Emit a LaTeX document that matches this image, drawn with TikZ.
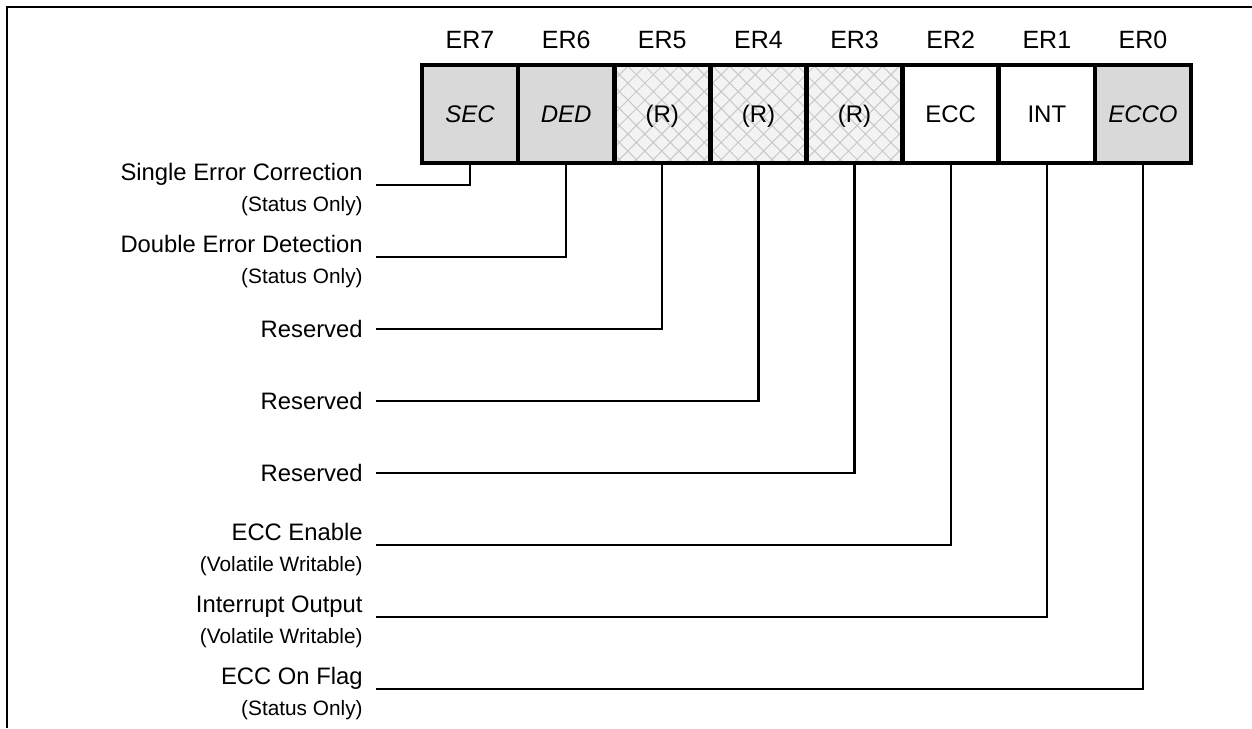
\documentclass[tikz,border=0pt]{standalone}
\usepackage{fontspec}
\setmainfont{Liberation Sans}
\usetikzlibrary{patterns.meta}
\definecolor{cellgray}{HTML}{D9D9D9}
\definecolor{hatchbg}{HTML}{F3F3F3}
\definecolor{hatchln}{HTML}{C8C8C8}
\newcommand{\subtxt}[1]{{\fontsize{10.4}{15}\selectfont #1}}
\newcommand{\twolbl}[2]{\rule{0pt}{13.4pt}#1\\[0.5pt]\subtxt{#2}}

\begin{document}
\begin{tikzpicture}[x=0.5pt,y=-0.5pt,
	bit/.style={draw=black,line width=2.4pt,minimum width=48.07pt,minimum height=49pt,
		inner sep=0pt,text height=8.6pt,text depth=0pt,font=\fontsize{12}{14}\selectfont},
	graybit/.style={bit,fill=cellgray,font=\fontsize{12}{14}\selectfont\itshape},
	rsvbit/.style={bit,preaction={fill=hatchbg},
		pattern={Hatch[angle=45,distance=6pt,line width=0.5pt]},pattern color=hatchln},
	head/.style={font=\fontsize{12.5}{15}\selectfont},
	lbl/.style={align=right,inner xsep=6.5pt,inner ysep=0pt,anchor=east,
		font=\fontsize{11.9}{15}\selectfont},
	wire/.style={line width=1.2pt}]
	\useasboundingbox (0,0) rectangle (1252,728);
	\draw[line width=1.4pt] (7,728) -- (7,7) -- (1252,7);
	% register bits
	\foreach \b/\txt/\sty [count=\i from 0] in {7/SEC/graybit, 6/DED/graybit,
		5/{(R)}/rsvbit, 4/{(R)}/rsvbit, 3/{(R)}/rsvbit, 2/ECC/bit, 1/INT/bit, 0/ECCO/graybit}
	{
		\node[\sty] (c\b) at ({470+96.14*\i},114) {\txt};
		\node[head] (h\b) at ({470+96.14*\i},40) {ER\b};
	}
	% bit descriptions
	\foreach \b/\txt [count=\i from 0] in {
		7/{\twolbl{Single Error Correction}{(Status Only)}},
		6/{\twolbl{Double Error Detection}{(Status Only)}},
		5/Reserved, 4/Reserved, 3/Reserved,
		2/{\twolbl{ECC Enable}{(Volatile Writable)}},
		1/{\twolbl{Interrupt Output}{(Volatile Writable)}},
		0/{\twolbl{ECC On Flag}{(Status Only)}}}
	{
		\node[lbl] (l\b) at (376,{185+72*\i}) {\txt};
		\draw[wire] (c\b.south) |- (l\b.east);
	}
\end{tikzpicture}
\end{document}
